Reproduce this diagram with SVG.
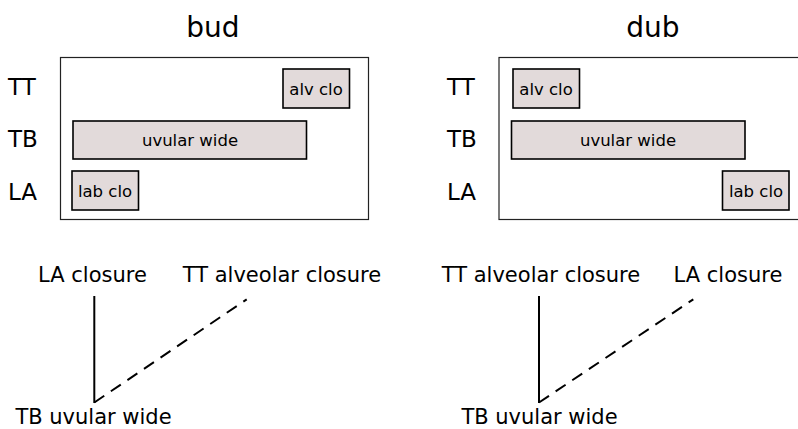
<svg xmlns="http://www.w3.org/2000/svg" width="798" height="429" viewBox="0 0 798 429">
<style>
text{font-family:"DejaVu Sans",sans-serif;fill:#000}
.title{font-size:28px;text-anchor:middle}
.row{font-size:23px}
.lbl{font-size:21px;text-anchor:middle}
.gest{font-size:16.5px;text-anchor:middle}
.frame{fill:#fff;stroke:#222;stroke-width:1.2}
.g{fill:#e2dada;stroke:#000;stroke-width:1.6}
.solid{stroke:#000;stroke-width:2;fill:none}
.dash{stroke:#000;stroke-width:2;fill:none;stroke-dasharray:12 8}
</style>
<rect width="798" height="429" fill="#fff"/>
<g id="bud-panel">
<text class="title" x="213" y="36.5">bud</text>
<text class="row" x="8" y="95">TT</text>
<text class="row" x="8" y="147">TB</text>
<text class="row" x="8" y="200">LA</text>
<rect class="frame" x="60.5" y="57.5" width="308" height="162"/>
</g>
<g id="bud-alv"><rect class="g" x="283" y="69" width="66.5" height="39"/><text class="gest" x="316" y="95">alv clo</text></g>
<g id="bud-uvular"><rect class="g" x="73" y="121" width="233.5" height="38"/><text class="gest" x="190" y="146">uvular wide</text></g>
<g id="bud-lab"><rect class="g" x="72" y="171" width="66.5" height="39"/><text class="gest" x="105" y="197">lab clo</text></g>

<g id="dub-panel">
<text class="title" x="653" y="36.5">dub</text>
<text class="row" x="447" y="95">TT</text>
<text class="row" x="447" y="147">TB</text>
<text class="row" x="447" y="200">LA</text>
<rect class="frame" x="499" y="57.5" width="310" height="162"/>
</g>
<g id="dub-alv"><rect class="g" x="513" y="69" width="66.5" height="39"/><text class="gest" x="546" y="95">alv clo</text></g>
<g id="dub-uvular"><rect class="g" x="511.5" y="121" width="233.5" height="38"/><text class="gest" x="628" y="146">uvular wide</text></g>
<g id="dub-lab"><rect class="g" x="722.5" y="171" width="66.5" height="39"/><text class="gest" x="756" y="197">lab clo</text></g>

<g id="bud-la"><text class="lbl" x="92.5" y="282">LA closure</text></g>
<g id="bud-tt"><text class="lbl" x="282" y="282">TT alveolar closure</text></g>
<g id="bud-tb"><text class="lbl" x="93.5" y="424">TB uvular wide</text></g>
<g id="dub-tt"><text class="lbl" x="541" y="282">TT alveolar closure</text></g>
<g id="dub-la"><text class="lbl" x="728" y="282">LA closure</text></g>
<g id="dub-tb"><text class="lbl" x="539.5" y="424">TB uvular wide</text></g>

<g id="connectors">
<path class="solid" d="M94.3 296 V403"/>
<path class="dash" d="M94.3 402.5 L246.7 299.3"/>
<path class="solid" d="M539 296 V403"/>
<path class="dash" d="M539 402.5 L693.3 299.3"/>
</g>
</svg>
